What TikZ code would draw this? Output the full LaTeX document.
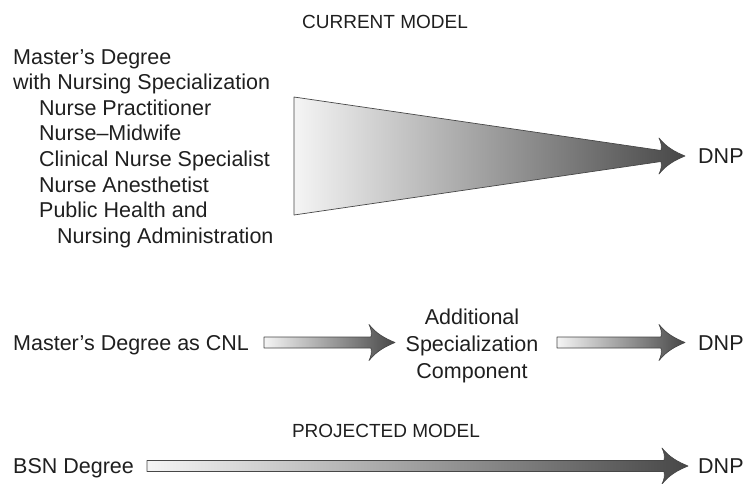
\documentclass[tikz,border=0pt]{standalone}
\usepackage{fontspec}
\setmainfont{Liberation Sans}
\usetikzlibrary{calc}

% shaded block arrow from #2 (middle of the tail) to #3 (tip);
% optional #1 is the half height of the tail end
\newcommand\blockarrow[3][5.5]{%
  \path[arrowbody] ($(#2)+(0,-#1)$) -- ($(#3)+(-24,-5.5)$)
    .. controls ($(#3)+(-23,-10)$) and ($(#3)+(-24,-14)$) .. ($(#3)+(-26,-18)$)
    .. controls ($(#3)+(-19,-9)$) and ($(#3)+(-10,-4)$) .. (#3)
    .. controls ($(#3)+(-10,4)$) and ($(#3)+(-19,9)$) .. ($(#3)+(-26,18)$)
    .. controls ($(#3)+(-24,14)$) and ($(#3)+(-23,10)$) .. ($(#3)+(-24,5.5)$)
    -- ($(#2)+(0,#1)$) -- cycle;}

\tikzset{
  arrowbody/.style={draw=black!72, line width=0.7pt, line join=round,
    left color=black!4, right color=black!72},
  txt/.style={inner sep=0pt, text=black!88, font=\fontsize{21.5}{27}\selectfont},
  heading/.style={inner sep=0pt, text=black!88, font=\fontsize{19}{22}\selectfont},
}

\begin{document}
\begin{tikzpicture}[x=1pt, y=-1pt]
  \useasboundingbox (0,0) rectangle (746,483);

  % current model
  \node[heading, anchor=base] (current) at (385,28) {CURRENT MODEL};
  \foreach \ind/\line [count=\i from 0] in {13/Master’s Degree,
      13/with Nursing Specialization, 39/Nurse Practitioner, 39/Nurse–Midwife,
      39/Clinical Nurse Specialist, 39/Nurse Anesthetist, 39/Public Health and,
      57/Nursing Administration}
    \node[txt, anchor=base west] (spec\i) at (\ind, 64+25.6*\i) {\line};
  \node[txt, anchor=base west] (dnpA) at (698,163) {DNP};
  \coordinate (fanL) at (294,156);
  \coordinate (fanTip) at (685,156);
  \blockarrow[59]{fanL}{fanTip}

  % master's as CNL
  \node[txt, anchor=base west] (cnl) at (13,350) {Master’s Degree as CNL};
  \node[txt, align=center] (addl) at (472,346) {Additional\\Specialization\\Component};
  \node[txt, anchor=base west] (dnpB) at (698,350) {DNP};
  \coordinate (cnlOut) at (264,342.5);
  \coordinate (addlIn) at (395,342.5);
  \coordinate (addlOut) at (557,342.5);
  \coordinate (dnpBIn) at (685,342.5);
  \blockarrow{cnlOut}{addlIn}
  \blockarrow{addlOut}{dnpBIn}

  % projected model
  \node[heading, anchor=base] (projected) at (386,437) {PROJECTED MODEL};
  \node[txt, anchor=base west] (bsn) at (13,473) {BSN Degree};
  \node[txt, anchor=base west] (dnpC) at (698,473) {DNP};
  \coordinate (bsnOut) at (147,466);
  \coordinate (dnpCIn) at (688,466);
  \blockarrow{bsnOut}{dnpCIn}
\end{tikzpicture}
\end{document}
